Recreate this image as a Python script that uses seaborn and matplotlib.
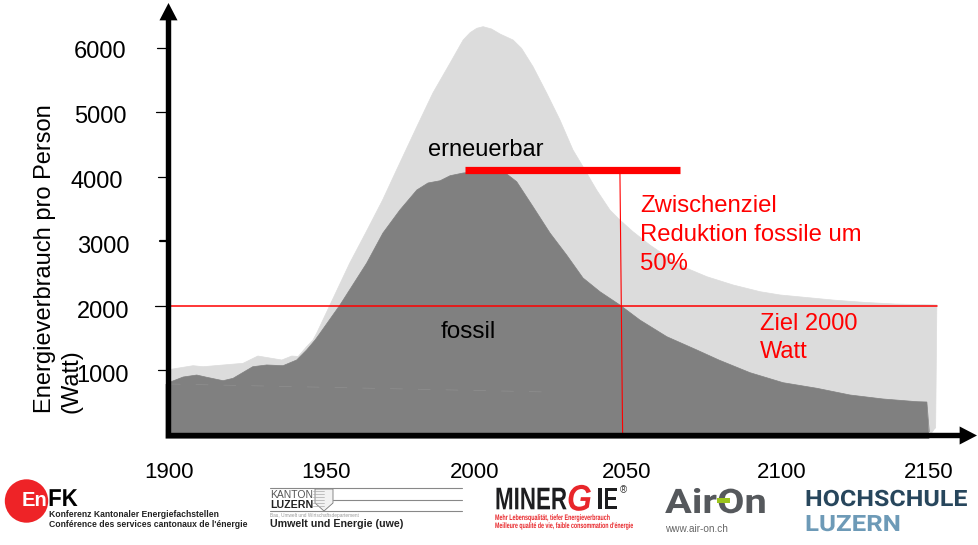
import matplotlib
matplotlib.use("Agg")
import matplotlib.pyplot as plt
import matplotlib.patheffects as pe
from matplotlib.patches import Circle, Polygon, Rectangle
from matplotlib.transforms import Affine2D
import pandas as pd
import seaborn as sns

# ---- data -------------------------------------------------------------
total_years = [1900, 1901, 1908.3, 1911.6, 1924.8, 1929.7, 1937.6, 1940.9, 1943, 1945.8, 1947.9, 1949.1, 1953.5,
               1960, 1965.5, 1970.9, 1975.5, 1982.2, 1987.5, 1993.2, 1997.5, 1999.8, 2002, 2004.1, 2006.9,
               2009.7, 2014, 2016.8, 2020.6, 2025.1, 2029.5, 2033.8, 2037.1, 2041.6, 2046, 2049.3,
               2053.6, 2059.2, 2064.8, 2071.4, 2078, 2086.7, 2095.6, 2102.2, 2110, 2120, 2130, 2140,
               2154, 2153.6, 2151]
total_watts = [990, 1011, 1067, 1051, 1104, 1217, 1155, 1217, 1210, 1362, 1466, 1570, 2009,
               2657, 3148, 3640, 4106, 4778, 5301, 5767, 6124, 6238, 6306, 6331, 6295,
               6217, 6124, 5995, 5710, 5301, 4882, 4416, 4157, 3795, 3484, 3329,
               3148, 2941, 2759, 2579, 2449, 2320, 2216, 2165, 2130, 2085, 2050, 2025,
               2010, 100, 100]
fossil_years = [1900, 1901, 1905, 1909.5, 1912.8, 1918.2, 1921.5, 1928, 1932.6, 1938, 1942.5, 1945.8, 1948.6,
                1950.2, 1956.8, 1965.6, 1971, 1976.6, 1982.2, 1985.9, 1989.9, 1993.2, 1997.5, 2004.7, 2011.9,
                2015.2, 2020.6, 2026.2, 2031.7, 2037.1, 2042.7, 2049.3, 2055.9, 2064.8, 2074.7,
                2082, 2092.3, 2103.2, 2114.4, 2125.3, 2136.2, 2147.4, 2150.7, 2151.5]
fossil_watts = [800, 818, 891, 922, 887, 834, 871, 1051, 1078, 1067, 1155, 1311, 1466,
                1570, 2009, 2657, 3127, 3484, 3795, 3904, 3939, 4017, 4059, 4090, 4044,
                3924, 3536, 3127, 2786, 2429, 2216, 2009, 1776, 1517, 1311,
                1155, 958, 803, 716, 612, 550, 508, 503, 42]
y_ticks = [1000, 2000, 3000, 4000, 5000, 6000]
y_labels = ["1000", "2000", "3000", "4000", "5000", "6000"]
x_labels = ["1900", "1950", "2000", "2050", "2100", "2150"]
target_watts = 2000
interim_watts = 4105
interim_years = [1998, 2069]

# ---- figure: the axes fill the canvas; limits calibrate data to picture ---
W, H = 979, 545
sns.set_theme(style="white")
plt.rcParams["font.family"] = ["Liberation Sans", "DejaVu Sans"]
fig = plt.figure(figsize=(W / 100, H / 100), dpi=100)
ax = fig.add_axes([0, 0, 1, 1])
px_year, px_watt = 3.027, 0.0644
ax.set_xlim(1900 - 168 / px_year, 1900 + (W - 168) / px_year)
ax.set_ylim(-(H - 434.4) / px_watt, 434.4 / px_watt)

LIGHT, DARK, RED = "#dcdcdc", "#808080", "#ff0000"
total = pd.DataFrame({"year": total_years, "watt": total_watts})
fossil = pd.DataFrame({"year": fossil_years, "watt": fossil_watts})

ax.fill(total_years + [1899.2], total_watts[:-1] + [-70, -70], color=LIGHT, lw=0, zorder=1)
sns.lineplot(data=total, x="year", y="watt", sort=False, estimator=None, color=LIGHT, lw=0.5, ax=ax, zorder=1)
ax.fill(fossil_years + [1899.2, 1899.2], fossil_watts[:-1] + [-70, -70, 780], color=DARK, lw=0, zorder=2)
sns.lineplot(data=fossil, x="year", y="watt", sort=False, estimator=None, color=DARK, lw=0.5, ax=ax, zorder=2)
ax.axis("off")

# faint streak inside the fossil area
ax.plot([1900, 2026], [783, 658], color="#8f8f8f", lw=0.5, dashes=(18, 22), zorder=2.5)

# reference lines
ax.plot([1900.5, 2154], [target_watts, target_watts], color=RED, lw=1.1, zorder=3)
ax.plot(interim_years, [interim_watts, interim_watts], color=RED, lw=5.2, solid_capstyle="butt", zorder=4)
ax.plot([2049.3, 2050.2], [4060, -40], color=RED, lw=0.8, zorder=3)

# tick marks (they start at slightly different distances in the source)
for v, start, lw in zip(y_ticks, [1896.8, 1895.8, 1897.2, 1896.8, 1896.2, 1896.5],
                        [0.9, 0.9, 1.6, 0.9, 0.9, 0.9]):
    ax.plot([start, 1900], [v, v], color="black", lw=lw, zorder=3)

# overlay in picture pixels for labels, arrows and logos
ov = fig.add_axes([0, 0, 1, 1], facecolor="none")
ov.set_xlim(0, W)
ov.set_ylim(H, 0)
ov.axis("off")


class StretchY(pe.AbstractPathEffect):
    """Draws a text taller or lower about its baseline (logo lettering)."""

    def __init__(self, baseline_px, sy):
        super().__init__()
        self.y0, self.sy = H - baseline_px, sy

    def draw_path(self, renderer, gc, tpath, affine, rgbFace=None):
        a = affine + Affine2D().translate(0, -self.y0).scale(1, self.sy).translate(0, self.y0)
        renderer.draw_path(gc, tpath, a, rgbFace)


def logo(x, y, s, sy=1.0, **kw):
    t = ov.text(x, y, s, va="baseline", **kw)
    if sy != 1.0:
        t.set_path_effects([StretchY(y, sy)])
    return t


arrow = dict(facecolor="black", edgecolor="none", width=3.9, headwidth=13, headlength=12.5, shrink=0)
ov.annotate("", xy=(168.5, 3), xytext=(168.5, 438), arrowprops=arrow, zorder=5)
ov.annotate("", xy=(977, 435.5), xytext=(166, 435.5), arrowprops=arrow, zorder=5)

for lab, x, y in zip(y_labels, [129, 129, 130, 123, 127, 126], [382, 318, 252.7, 188, 122.7, 58]):
    ov.text(x, y, lab, ha="right", va="baseline", fontsize=17, color="black")
for lab, x in zip(x_labels, [169.5, 326, 475, 627, 782, 929]):
    ov.text(x, 478.5, lab, ha="center", va="baseline", fontsize=16, color="black")
ov.text(56, 413, "Energieverbrauch pro Person", rotation=90, ha="right", va="bottom", fontsize=17, color="black")
ov.text(83, 413, "(Watt)", rotation=90, ha="right", va="bottom", fontsize=17, color="black")
ov.text(486, 156, "erneuerbar", ha="center", va="baseline", fontsize=17, color="black")
ov.text(468.5, 338, "fossil", ha="center", va="baseline", fontsize=17.5, color="black")
for s, y in zip(["Zwischenziel", "Reduktion fossile um", "50%"], [211.7, 240.7, 270]):
    ov.text(640, y, s, ha="left", va="baseline", fontsize=17.2, color=RED)
for s, y in zip(["Ziel 2000", "Watt"], [330, 358]):
    ov.text(760, y, s, ha="left", va="baseline", fontsize=17, color=RED)

# ---- logos ---
ov.add_patch(Circle((26.5, 501), 21.7, color="#ee2327", lw=0))
logo(34.5, 506, "En", color="white", fontsize=14.5, fontweight="bold", ha="center")
logo(63, 506, "FK", sy=1.1, color="black", fontsize=16, fontweight="bold", ha="center")
logo(49, 517, "Konferenz Kantonaler Energiefachstellen", fontsize=6.2, fontweight="bold", color="#222222")
logo(49, 527, "Conférence des services cantonaux de l'énergie", fontsize=6.2, fontweight="bold", color="#222222")

logo(270, 497.7, "KANTON", fontsize=7.5, color="#555555")
logo(270, 508, "LUZERN", fontsize=7.7, fontweight="bold", color="#222222")
for y in (488, 499.5, 511):
    ov.plot([270 if y == 511 else 333, 462], [y, y], color="#888888", lw=0.8)
ov.plot([270, 333], [488, 488], color="#888888", lw=0.8)
ov.add_patch(Polygon([(315, 489), (333, 489), (333, 503), (324, 511), (315, 503)], closed=True,
                     fc="#f2f2f2", ec="#777777", lw=0.6))
for y in range(491, 507, 3):
    ov.plot([313, 324], [y, y], color="#aaaaaa", lw=0.5)
logo(270, 516.5, "Bau, Umwelt und Wirtschaftsdepartement", fontsize=3.4, color="#999999")
logo(270, 527, "Umwelt und Energie (uwe)", fontsize=7.7, fontweight="bold", color="#222222")

logo(495, 509.3, "MINER", sy=1.4, fontsize=16.1, fontweight="bold", color="#1d1d1f")
logo(567, 510.5, "G", sy=1.15, fontsize=23, fontweight="bold", style="italic", color="#e8262a")
logo(597, 509.3, "IE", sy=1.4, fontsize=16, fontweight="bold", color="#1d1d1f")
ov.text(623, 490, "®", fontsize=7, color="#333333", ha="center", va="center")
logo(495, 520, "Mehr Lebensqualität, tiefer Energieverbrauch", sy=1.5, fontsize=3.85, fontweight="bold", color="#e8262a")
logo(495, 528, "Meilleure qualité de vie, faible consommation d'énergie", sy=1.5, fontsize=3.8, fontweight="bold", color="#e8262a")

logo(665, 513, "AirOn", sy=0.85, fontsize=28.7, fontweight="bold", family="Roboto", color="#55585c")
ov.add_patch(Rectangle((717, 497.5), 13, 5.5, color="#9bc31c", lw=0, zorder=4))
logo(665, 532, "www.air-on.ch", fontsize=7.2, color="#666666")

logo(805, 506, "HOCHSCHULE", sy=0.9, fontsize=18, fontweight="bold", family="Roboto", color="#27465c")
logo(805, 531, "LUZERN", sy=0.87, fontsize=18.6, fontweight="bold", family="Roboto", color="#6d9ab7")

fig.savefig("out.png", dpi=100, facecolor="white")
